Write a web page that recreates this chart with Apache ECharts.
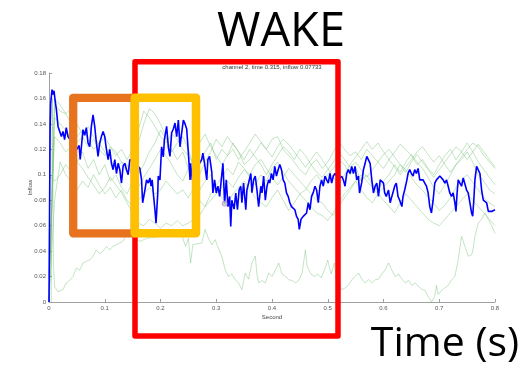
<!DOCTYPE html>
<html>
<head>
<meta charset="utf-8">
<script src="https://cdn.jsdelivr.net/npm/echarts@6/dist/echarts.min.js"></script>
<style>
html,body{margin:0;padding:0;background:#fff;}
#chart{width:532px;height:366px;}
</style>
</head>
<body>
<div id="chart"></div>
<script>
// ---- data ----
const xTicks = [0, 0.1, 0.2, 0.3, 0.4, 0.5, 0.6, 0.7, 0.8];
const yTicks = [0, 0.02, 0.04, 0.06, 0.08, 0.1, 0.12, 0.14, 0.16, 0.18];
const plotTitle = "channel 2, time 0.315, inflow 0.07733";
const cursorPoint = [0.315, 0.07733];

// blue channel (channel 2): [time, inflow]
const blueSeries = [
[0,0],[0.002,0.138],[0.003,0.156],[0.0054,0.167],[0.0072,0.163],[0.009,0.166],[0.0108,0.159],[0.0133,0.151],[0.0162,0.138],[0.0192,0.134],[0.0222,0.130],[0.0251,0.134],[0.028,0.1276],[0.031,0.137],[0.034,0.130],[0.042,0.125],
[0.050,0.120],[0.054,0.123],[0.056,0.112],[0.061,0.1355],[0.064,0.131],[0.067,0.137],[0.070,0.125],[0.073,0.122],[0.076,0.138],[0.079,0.147],[0.082,0.138],[0.085,0.125],[0.088,0.1145],[0.091,0.125],[0.094,0.130],[0.097,0.134],[0.100,0.130],[0.103,0.120],[0.106,0.112],[0.109,0.120],[0.112,0.109],[0.115,0.104],[0.118,0.112],[0.121,0.101],[0.124,0.109],[0.127,0.104],[0.130,0.0935],[0.133,0.107],[0.136,0.109],[0.139,0.104],[0.142,0.100],[0.145,0.112],[0.152,0.110],
[0.163,0.105],[0.166,0.096],[0.168,0.078],[0.170,0.077],[0.172,0.088],[0.175,0.096],[0.178,0.0935],[0.181,0.0975],[0.183,0.091],[0.185,0.096],[0.187,0.086],[0.190,0.0725],[0.192,0.062],[0.195,0.085],[0.196,0.099],[0.199,0.096],[0.202,0.122],[0.205,0.114],[0.207,0.1276],[0.211,0.138],[0.214,0.122],[0.217,0.1145],[0.220,0.133],[0.223,0.136],[0.226,0.1407],[0.229,0.130],[0.232,0.143],[0.235,0.122],[0.238,0.133],[0.241,0.143],[0.244,0.140],[0.247,0.136],[0.250,0.117],[0.253,0.096],[0.254,0.109],[0.257,0.096],[0.265,0.105],
[0.274,0.112],[0.276,0.117],[0.279,0.109],[0.283,0.096],[0.285,0.112],[0.288,0.1145],[0.292,0.102],[0.294,0.0857],[0.297,0.096],[0.300,0.0857],[0.303,0.091],[0.306,0.083],[0.309,0.096],[0.312,0.109],[0.315,0.07733],[0.318,0.096],[0.321,0.075],[0.324,0.083],[0.326,0.0594],[0.328,0.080],[0.332,0.073],[0.335,0.0857],[0.338,0.0725],[0.341,0.088],[0.344,0.091],[0.346,0.078],[0.349,0.0935],[0.353,0.0725],[0.355,0.088],[0.358,0.0935],[0.362,0.101],[0.364,0.086],[0.367,0.096],[0.370,0.099],[0.373,0.088],[0.376,0.075],[0.380,0.091],[0.382,0.0857],[0.385,0.099],[0.388,0.080],[0.391,0.091],[0.394,0.096],
[0.396,0.0935],[0.399,0.101],[0.402,0.096],[0.405,0.1066],[0.408,0.099],[0.411,0.104],[0.414,0.108],[0.417,0.104],[0.420,0.096],[0.423,0.0935],[0.426,0.0857],[0.429,0.083],[0.432,0.078],[0.435,0.075],[0.438,0.075],[0.441,0.0725],[0.444,0.0673],[0.447,0.065],[0.449,0.057],[0.452,0.065],[0.456,0.0673],[0.459,0.0673],[0.462,0.070],[0.465,0.078],[0.468,0.0725],[0.471,0.083],[0.474,0.086],[0.477,0.091],[0.480,0.088],[0.483,0.078],[0.486,0.091],[0.489,0.096],[0.492,0.091],[0.495,0.099],[0.498,0.096],[0.501,0.0935],[0.504,0.101],[0.507,0.0935],[0.510,0.099],[0.513,0.101],[0.519,0.097],
[0.525,0.0987],[0.528,0.096],[0.531,0.091],[0.534,0.101],[0.537,0.104],[0.540,0.101],[0.543,0.1066],[0.546,0.101],[0.549,0.1066],[0.552,0.096],[0.555,0.099],[0.557,0.0857],[0.561,0.094],[0.564,0.104],[0.567,0.109],[0.570,0.1145],[0.573,0.116],[0.576,0.109],[0.579,0.096],[0.582,0.0857],[0.585,0.091],[0.588,0.0935],[0.591,0.083],[0.594,0.096],[0.597,0.096],[0.600,0.0935],[0.602,0.086],[0.605,0.083],[0.609,0.088],[0.612,0.078],[0.615,0.083],[0.617,0.086],[0.620,0.091],[0.623,0.0935],[0.626,0.083],[0.629,0.080],[0.633,0.075],[0.635,0.083],[0.638,0.088],[0.642,0.096],[0.644,0.101],[0.647,0.104],[0.650,0.101],[0.653,0.099],[0.656,0.104],[0.659,0.101],[0.662,0.105],[0.665,0.096],[0.668,0.095],[0.671,0.096],[0.674,0.0935],[0.677,0.091],[0.680,0.086],[0.683,0.075],[0.686,0.070],[0.689,0.080],[0.692,0.0935],[0.695,0.096],[0.698,0.0975],
[0.701,0.099],[0.704,0.0975],[0.707,0.096],[0.710,0.0935],[0.713,0.096],[0.716,0.091],[0.719,0.0857],[0.722,0.083],[0.725,0.0857],[0.728,0.078],[0.730,0.0712],[0.732,0.0857],[0.734,0.096],[0.737,0.0935],[0.740,0.091],[0.743,0.0975],[0.746,0.096],[0.749,0.088],[0.752,0.0857],[0.755,0.078],[0.758,0.070],[0.760,0.0675],[0.762,0.080],[0.764,0.096],[0.767,0.1066],[0.770,0.108],[0.773,0.101],[0.776,0.088],[0.779,0.080],[0.782,0.080],[0.785,0.078],[0.788,0.0712],[0.791,0.0712],[0.794,0.0712],[0.797,0.070],[0.800,0.0725]
];

// low green channel: [time, inflow]
const greenLow = [
[0.004,0.0],[0.006,0.16],[0.008,0.03],[0.01,0.012],[0.016,0.008],[0.025,0.0097],[0.031,0.015],[0.037,0.017],[0.043,0.02],[0.049,0.0267],[0.055,0.025],[0.061,0.0307],[0.067,0.032],[0.073,0.033],[0.079,0.036],[0.085,0.041],[0.091,0.038],[0.097,0.04],[0.103,0.0437],[0.109,0.041],[0.115,0.044],[0.121,0.045],[0.127,0.0464],[0.133,0.048],[0.139,0.053],[0.145,0.053],[0.155,0.05],[0.163,0.0476],[0.175,0.05],[0.199,0.0515],[0.21,0.055],[0.222,0.056],[0.235,0.057],[0.24,0.05],[0.245,0.0437],[0.25,0.05],[0.254,0.0307],[0.258,0.045],[0.274,0.0464],[0.28,0.057],[0.286,0.05],[0.292,0.045],[0.298,0.049],[0.304,0.042],[0.31,0.036],[0.316,0.0254],[0.322,0.02],[0.328,0.022],[0.334,0.0175],[0.34,0.015],[0.346,0.0097],[0.352,0.0228],[0.358,0.018],[0.364,0.0307],[0.37,0.036],[0.373,0.022],[0.376,0.015],[0.382,0.017],[0.388,0.015],[0.394,0.0228],[0.4,0.02],[0.406,0.025],[0.412,0.0307],[0.418,0.022],[0.424,0.02],[0.43,0.0175],[0.436,0.017],[0.442,0.015],[0.448,0.017],[0.454,0.0228],[0.46,0.041],[0.463,0.028],[0.47,0.022],[0.476,0.02],[0.482,0.022],[0.488,0.019],[0.494,0.025],[0.5,0.033],[0.506,0.022],[0.512,0.0307],[0.515,0.018],[0.525,0.0097],[0.531,0.011],[0.537,0.013],[0.543,0.0175],[0.549,0.02],[0.555,0.0228],[0.561,0.018],[0.567,0.015],[0.573,0.0175],[0.579,0.015],[0.585,0.0175],[0.591,0.018],[0.597,0.022],[0.603,0.0254],[0.609,0.0307],[0.615,0.025],[0.621,0.02],[0.627,0.022],[0.633,0.018],[0.639,0.015],[0.645,0.017],[0.651,0.013],[0.657,0.015],[0.663,0.012],[0.669,0.01],[0.675,0.009],[0.68,0.0044],[0.686,0.0],[0.692,0.0044],[0.695,0.013],[0.698,0.006],[0.704,0.009],[0.71,0.011],[0.716,0.013],[0.722,0.0175],[0.728,0.02],[0.734,0.033],[0.74,0.0515],[0.743,0.052],[0.746,0.044],[0.752,0.036],[0.758,0.037],[0.76,0.04],[0.764,0.0515],[0.77,0.062],[0.776,0.065],[0.782,0.07],[0.788,0.065],[0.794,0.06],[0.8,0.054]
];

// shared time base for the other green channels
const greenTimes = [0,0.01,0.02,0.03,0.04,0.05,0.06,0.07,0.08,0.09,0.1,0.11,0.12,0.13,0.14,0.15,0.16,0.17,0.18,0.19,0.2,0.21,0.22,0.23,0.24,0.25,0.26,0.27,0.28,0.29,0.3,0.31,0.32,0.33,0.34,0.35,0.36,0.37,0.38,0.39,0.4,0.41,0.42,0.43,0.44,0.45,0.46,0.47,0.48,0.49,0.5,0.51,0.52,0.53,0.54,0.55,0.56,0.57,0.58,0.59,0.6,0.61,0.62,0.63,0.64,0.65,0.66,0.67,0.68,0.69,0.7,0.71,0.72,0.73,0.74,0.75,0.76,0.77,0.78,0.79,0.8];

const greenA = [0.0,0.155,0.15,0.148,0.14,0.13,0.135,0.128,0.12,0.125,0.118,0.112,0.105,0.11,0.102,0.115,0.125,0.14,0.152,0.148,0.14,0.13,0.118,0.125,0.13,0.12,0.105,0.11,0.118,0.125,0.112,0.12,0.115,0.125,0.118,0.108,0.112,0.118,0.125,0.12,0.128,0.13,0.12,0.115,0.11,0.104,0.1,0.108,0.112,0.105,0.11,0.118,0.126,0.12,0.115,0.118,0.112,0.12,0.115,0.11,0.105,0.112,0.118,0.124,0.12,0.115,0.108,0.112,0.105,0.1,0.108,0.115,0.12,0.112,0.118,0.125,0.118,0.11,0.104,0.098,0.092];
const greenB = [0.02,0.13,0.125,0.118,0.122,0.11,0.118,0.105,0.112,0.1,0.108,0.095,0.1,0.09,0.085,0.095,0.1,0.108,0.118,0.125,0.135,0.128,0.12,0.112,0.118,0.105,0.098,0.088,0.095,0.1,0.092,0.098,0.105,0.1,0.11,0.105,0.098,0.092,0.1,0.095,0.105,0.11,0.102,0.095,0.09,0.085,0.088,0.095,0.1,0.094,0.1,0.105,0.112,0.108,0.1,0.106,0.095,0.1,0.092,0.088,0.095,0.1,0.108,0.102,0.11,0.116,0.11,0.105,0.098,0.09,0.085,0.092,0.1,0.108,0.112,0.118,0.11,0.1,0.095,0.088,0.085];
const greenC = [0.0,0.08,0.11,0.1,0.095,0.088,0.095,0.09,0.1,0.092,0.085,0.09,0.082,0.088,0.08,0.075,0.08,0.085,0.09,0.085,0.088,0.095,0.09,0.085,0.088,0.082,0.09,0.08,0.075,0.085,0.09,0.082,0.078,0.085,0.09,0.095,0.088,0.082,0.078,0.075,0.082,0.088,0.08,0.072,0.078,0.085,0.08,0.075,0.07,0.068,0.064,0.07,0.078,0.085,0.09,0.095,0.088,0.082,0.078,0.085,0.08,0.075,0.07,0.078,0.085,0.08,0.075,0.07,0.065,0.062,0.06,0.065,0.07,0.075,0.08,0.085,0.08,0.075,0.07,0.065,0.06];
const greenD = [0.0,0.145,0.14,0.135,0.128,0.125,0.13,0.122,0.128,0.12,0.115,0.122,0.118,0.11,0.108,0.1,0.09,0.098,0.105,0.112,0.12,0.115,0.108,0.1,0.095,0.105,0.112,0.125,0.132,0.122,0.115,0.108,0.115,0.12,0.112,0.118,0.125,0.132,0.126,0.12,0.114,0.122,0.128,0.124,0.118,0.112,0.106,0.112,0.118,0.112,0.105,0.098,0.092,0.1,0.108,0.114,0.12,0.126,0.12,0.125,0.118,0.112,0.106,0.1,0.106,0.112,0.118,0.122,0.116,0.11,0.115,0.108,0.102,0.108,0.114,0.12,0.125,0.122,0.115,0.11,0.105];
const greenE = [0.1,0.095,0.1,0.108,0.102,0.11,0.105,0.098,0.092,0.085,0.09,0.098,0.092,0.086,0.078,0.07,0.062,0.06,0.065,0.062,0.058,0.062,0.06,0.064,0.06,0.062,0.065,0.068,0.075,0.08,0.085,0.09,0.095,0.09,0.098,0.104,0.1,0.108,0.112,0.105,0.098,0.092,0.098,0.105,0.1,0.095,0.09,0.085,0.08,0.078,0.072,0.068,0.075,0.082,0.088,0.095,0.1,0.095,0.09,0.085,0.09,0.095,0.1,0.108,0.104,0.098,0.092,0.088,0.082,0.078,0.072,0.076,0.082,0.09,0.096,0.1,0.094,0.088,0.082,0.078,0.075];
const greenF = [0.0,0.16,0.155,0.148,0.152,0.14,0.132,0.138,0.13,0.124,0.13,0.122,0.115,0.12,0.112,0.12,0.135,0.15,0.145,0.138,0.13,0.125,0.132,0.128,0.12,0.115,0.108,0.1,0.11,0.118,0.128,0.122,0.13,0.124,0.118,0.112,0.12,0.114,0.108,0.1,0.108,0.115,0.122,0.118,0.112,0.12,0.115,0.108,0.102,0.098,0.104,0.11,0.118,0.112,0.106,0.11,0.104,0.098,0.104,0.11,0.116,0.12,0.114,0.108,0.102,0.11,0.116,0.11,0.104,0.098,0.104,0.11,0.116,0.122,0.118,0.112,0.118,0.124,0.118,0.112,0.106];

const greenChannels = [greenA, greenB, greenC, greenD, greenE, greenF];

// ---- chart ----
const chart = echarts.init(document.getElementById('chart'), null, {renderer: 'canvas'});
const GREEN = 'rgba(100,185,100,0.38)';
const series = [];
series.push({type:'line', data: greenLow, showSymbol:false, lineStyle:{color:GREEN, width:1}, z:2, silent:true});
greenChannels.forEach(function(vals){
  series.push({type:'line', data: greenTimes.map(function(t,i){return [t, vals[i]];}), showSymbol:false,
    lineStyle:{color:GREEN, width:1}, z:2, silent:true});
});
series.push({type:'line', data: blueSeries, showSymbol:false, lineStyle:{color:'#0000ff', width:1.6}, z:3});
series.push({type:'scatter', data:[cursorPoint], symbol:'circle', symbolSize:5,
  itemStyle:{color:'#a8e6a8', borderColor:'#e070e0', borderWidth:1}, z:4});

const axisGray = '#a0a0a0';
const option = {
  animation:false,
  backgroundColor:'#ffffff',
  grid:{left:49, right:37, top:73, bottom:64, containLabel:false},
  xAxis:{type:'value', min:xTicks[0], max:xTicks[xTicks.length-1], interval:0.1,
    name:'Second', nameLocation:'middle', nameGap:12, nameMoveOverlap:false,
    nameTextStyle:{fontSize:6, color:'#444', fontFamily:'Liberation Sans'},
    axisLine:{show:true, lineStyle:{color:axisGray, width:1}},
    axisTick:{show:true, inside:true, length:3, lineStyle:{color:axisGray}},
    axisLabel:{fontSize:6, color:'#555', margin:3, fontFamily:'Liberation Sans'},
    splitLine:{show:false}},
  yAxis:{type:'value', min:yTicks[0], max:yTicks[yTicks.length-1], interval:0.02,
    name:'Inflow', nameLocation:'middle', nameGap:16, nameMoveOverlap:false,
    nameTextStyle:{fontSize:6, color:'#444', fontFamily:'Liberation Sans'},
    axisLine:{show:true, lineStyle:{color:axisGray, width:1}},
    axisTick:{show:true, inside:true, length:3, lineStyle:{color:axisGray}},
    axisLabel:{fontSize:6, color:'#555', margin:3, fontFamily:'Liberation Sans'},
    splitLine:{show:false}},
  series: series,
  graphic:[
    {type:'text', z:50, x:272, y:67, style:{text: plotTitle, font:'6px "Liberation Sans"', fill:'#333',
      textAlign:'center', textVerticalAlign:'middle'}},
    {type:'rect', z:100, shape:{x:135, y:61.7, width:203, height:274.3},
      style:{fill:'none', stroke:'#ff0000', lineWidth:5.5, lineJoin:'round'}},
    {type:'rect', z:101, shape:{x:73.2, y:97.8, width:61.6, height:135.5},
      style:{fill:'none', stroke:'#e8731e', lineWidth:8.3, lineJoin:'round'}},
    {type:'rect', z:102, shape:{x:134.8, y:97.8, width:61.2, height:135.5},
      style:{fill:'none', stroke:'#ffc000', lineWidth:8.5, lineJoin:'round'}},
    {type:'text', z:103, x:281, y:33, style:{text:'WAKE', font:'47px "Open Sans"', fill:'#000',
      textAlign:'center', textVerticalAlign:'middle'}},
    {type:'text', z:103, x:445, y:344, style:{text:'Time (s)', font:'41px "Open Sans"', fill:'#000',
      textAlign:'center', textVerticalAlign:'middle'}}
  ]
};
chart.setOption(option);
</script>
</body>
</html>
